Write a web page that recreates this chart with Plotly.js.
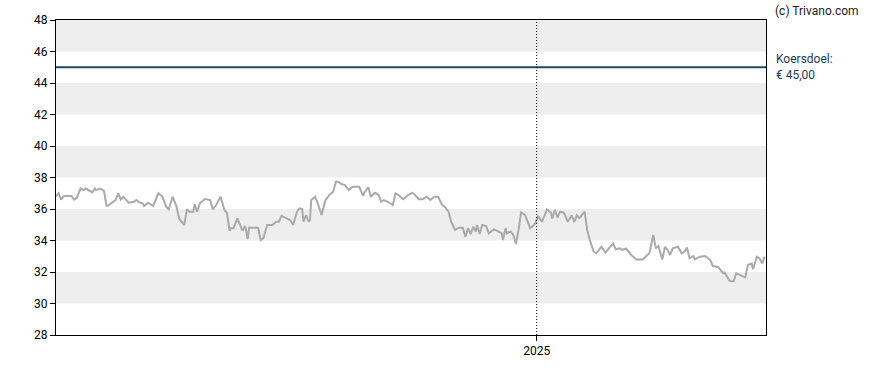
<!DOCTYPE html>
<html>
<head>
<meta charset="utf-8">
<script src="https://cdn.plot.ly/plotly-3.0.1.min.js"></script>
<style>html,body{margin:0;padding:0;background:#fff;}#chart{width:888px;height:370px;}</style>
</head>
<body>
<div id="chart"></div>
<script>
var dates = [
"2023-12-27","2023-12-29","2023-12-31","2024-01-02","2024-01-08","2024-01-10","2024-01-12","2024-01-15","2024-01-17","2024-01-19",
"2024-01-24","2024-01-26","2024-01-27","2024-01-30","2024-02-02","2024-02-04","2024-02-05","2024-02-11","2024-02-13","2024-02-15",
"2024-02-17","2024-02-21","2024-02-25","2024-02-27","2024-02-29","2024-03-03","2024-03-04","2024-03-07","2024-03-11","2024-03-15",
"2024-03-18","2024-03-21","2024-03-23","2024-03-26","2024-03-29","2024-03-31","2024-04-04","2024-04-06","2024-04-08","2024-04-11",
"2024-04-12","2024-04-14","2024-04-16","2024-04-20","2024-04-24","2024-04-26","2024-04-29","2024-05-02","2024-05-05","2024-05-07",
"2024-05-09","2024-05-10","2024-05-12","2024-05-15","2024-05-19","2024-05-21","2024-05-23","2024-05-24","2024-05-31","2024-06-02",
"2024-06-04","2024-06-07","2024-06-11","2024-06-14","2024-06-16","2024-06-18","2024-06-22","2024-06-25","2024-06-27","2024-06-30",
"2024-07-02","2024-07-04","2024-07-05","2024-07-07","2024-07-09","2024-07-10","2024-07-11","2024-07-14","2024-07-16","2024-07-19",
"2024-07-22","2024-07-25","2024-07-28","2024-07-30","2024-08-01","2024-08-03","2024-08-06","2024-08-09","2024-08-12","2024-08-17",
"2024-08-20","2024-08-21","2024-08-24","2024-08-26","2024-08-29","2024-09-01","2024-09-03","2024-09-05","2024-09-08","2024-09-12",
"2024-09-14","2024-09-16","2024-09-20","2024-09-24","2024-09-27","2024-09-29","2024-10-02","2024-10-05","2024-10-08","2024-10-11",
"2024-10-14","2024-10-17","2024-10-20","2024-10-22","2024-10-25","2024-10-27","2024-10-30","2024-11-02","2024-11-05","2024-11-07",
"2024-11-09","2024-11-11","2024-11-13","2024-11-15","2024-11-16","2024-11-18","2024-11-20","2024-11-23","2024-11-25","2024-11-29",
"2024-12-02","2024-12-05","2024-12-06","2024-12-08","2024-12-09","2024-12-12","2024-12-14","2024-12-16","2024-12-18","2024-12-20",
"2024-12-23","2024-12-26","2024-12-27","2024-12-29","2024-12-31","2025-01-02","2025-01-05","2025-01-07","2025-01-09","2025-01-12",
"2025-01-13","2025-01-15","2025-01-17","2025-01-19","2025-01-22","2025-01-25","2025-01-28","2025-01-30","2025-02-01","2025-02-03",
"2025-02-07","2025-02-09","2025-02-11","2025-02-14","2025-02-16","2025-02-20","2025-02-23","2025-03-01","2025-03-03","2025-03-06",
"2025-03-08","2025-03-11","2025-03-15","2025-03-19","2025-03-24","2025-03-26","2025-03-29","2025-04-01","2025-04-03","2025-04-05",
"2025-04-08","2025-04-10","2025-04-12","2025-04-14","2025-04-16","2025-04-20","2025-04-23","2025-04-25","2025-04-27","2025-04-29",
"2025-05-02","2025-05-03","2025-05-07","2025-05-11","2025-05-15","2025-05-17","2025-05-21","2025-05-25","2025-05-26","2025-05-30",
"2025-06-02","2025-06-04","2025-06-07","2025-06-11","2025-06-13","2025-06-16","2025-06-17","2025-06-20","2025-06-22","2025-06-24",
"2025-06-26"
];
var prices = [
36.8,37.0,36.6,36.83,36.83,36.6,36.7,37.3,37.2,37.3,
37.05,37.3,37.2,37.3,37.16,36.2,36.2,36.57,37.0,36.6,
36.78,36.4,36.46,36.57,36.44,36.35,36.19,36.4,36.19,37.0,
36.8,36.15,35.98,36.78,36.15,35.4,34.98,35.98,35.83,35.83,
36.3,35.83,36.36,36.63,36.57,35.98,36.3,36.78,35.94,35.73,
34.62,34.78,34.78,35.4,34.62,34.92,34.08,34.81,34.81,34.03,
34.14,34.98,34.98,35.19,35.19,35.56,35.4,35.28,34.98,35.83,
36.04,36.0,35.19,35.62,35.19,35.3,36.57,36.78,36.36,35.62,
36.57,36.89,37.1,37.73,37.73,37.59,37.52,37.2,37.42,37.42,
36.83,37.03,37.38,36.78,37.03,36.9,36.46,36.57,36.46,36.25,
37.0,36.9,36.62,36.9,37.03,36.9,36.62,36.62,36.78,36.57,
36.78,36.78,36.25,36.15,35.83,35.19,34.67,34.81,34.81,34.24,
34.78,34.41,34.87,34.57,34.98,34.41,34.98,34.92,34.46,34.71,
34.6,34.46,34.03,34.78,34.46,34.57,34.35,33.78,34.67,35.79,
35.62,34.98,34.78,34.92,35.09,35.56,35.19,35.56,35.98,35.77,
35.4,35.94,35.46,35.83,35.77,35.19,35.6,35.19,35.6,35.43,
35.83,34.67,34.03,33.29,33.19,33.6,33.23,33.82,33.44,33.5,
33.4,33.5,33.08,32.8,32.8,32.97,33.19,34.35,33.5,33.65,
32.8,33.6,33.4,33.08,33.5,33.6,33.19,33.29,33.55,32.87,
33.02,32.8,32.97,33.02,32.76,32.38,32.32,31.92,31.96,31.43,
31.41,31.92,31.81,31.66,32.44,32.55,32.17,32.97,32.87,32.55,
32.97
];
var targetPrice = 45;
var bandLows = [30, 34, 38, 42, 46];
var bandHighs = [32, 36, 40, 44, 48];
var xStart = "2023-12-27", xEnd = "2025-06-27";
var yearTickVals = ["2025-01-01"];
var yearTickText = ["2025"];
var yTickVals = [28,30,32,34,36,38,40,42,44,46,48];

var shapes = [];
for (var i = 0; i < bandLows.length; i++) {
  shapes.push({type:'rect', xref:'paper', yref:'y', x0:0, x1:1, y0:bandLows[i], y1:bandHighs[i],
    fillcolor:'#eeeeee', line:{width:0}, layer:'below'});
}
shapes.push({type:'line', xref:'paper', yref:'y', x0:0, x1:1, y0:targetPrice, y1:targetPrice,
  line:{color:'#1d4866', width:2}});
shapes.push({type:'line', xref:'x', yref:'paper', x0:yearTickVals[0], x1:yearTickVals[0], y0:0, y1:1,
  line:{color:'#000', width:1, dash:'1px,2px'}});

var trace = {x:dates, y:prices, type:'scatter', mode:'lines',
  line:{color:'#aaaaaa', width:2}, hoverinfo:'skip'};

var layout = {
  width:888, height:370,
  margin:{l:56, r:122, t:20, b:35, pad:0},
  paper_bgcolor:'#fff', plot_bgcolor:'rgba(0,0,0,0)',
  showlegend:false,
  font:{family:'Roboto, Arial, sans-serif', size:12, color:'#000'},
  xaxis:{type:'date', range:[xStart, xEnd], tickmode:'array', tickvals:yearTickVals, ticktext:yearTickText,
    showgrid:false, zeroline:false, showline:true, linecolor:'#000', linewidth:1, mirror:true,
    ticks:'outside', ticklen:5, tickcolor:'#000', tickfont:{size:12, color:'#000'}, fixedrange:true},
  yaxis:{range:[28,48], tickmode:'array', tickvals:yTickVals, showgrid:false, zeroline:false,
    showline:true, linecolor:'#000', linewidth:1, mirror:true,
    ticks:'outside', ticklen:5, tickcolor:'#000', tickfont:{size:12, color:'#000'}, fixedrange:true},
  shapes:shapes,
  annotations:[
    {xref:'paper', yref:'paper', x:1, y:1, xshift:7, yshift:18, xanchor:'left', yanchor:'top', showarrow:false,
      text:'(c) Trivano.com', font:{size:12, color:'#222'}},
    {xref:'paper', yref:'y', x:1, y:targetPrice, xshift:8, yshift:17, xanchor:'left', yanchor:'top', showarrow:false,
      align:'left', text:'Koersdoel:<br>€ 45,00', font:{size:12, color:'#1d3a55'}}
  ]
};
Plotly.newPlot('chart', [trace], layout, {displayModeBar:false, staticPlot:true});
</script>
</body>
</html>
